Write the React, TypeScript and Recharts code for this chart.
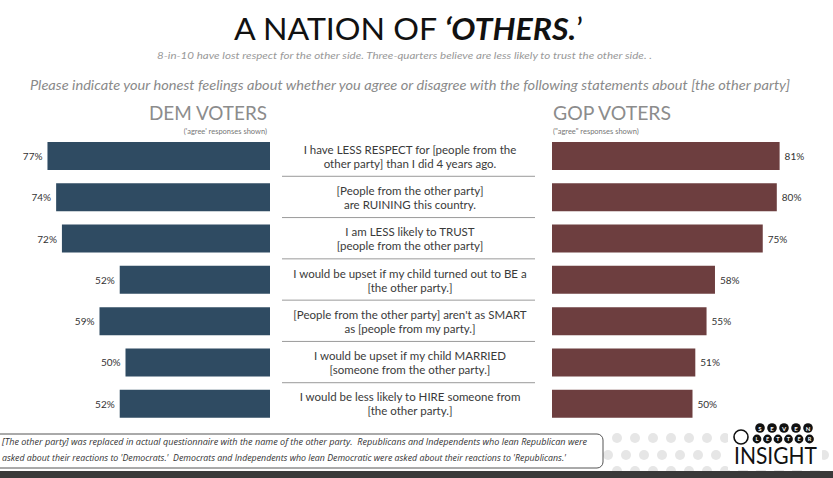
import React from "react";
import { BarChart, Bar, XAxis, YAxis, LabelList } from "recharts";

// statements (y categories) and the share of "agree" answers
const statements = [
  "LESS RESPECT",
  "RUINING",
  "TRUST",
  "CHILD BE",
  "SMART",
  "MARRIED",
  "HIRE",
];

const statementLines: Record<string, string[]> = {
  "LESS RESPECT": ["I have LESS RESPECT for [people from the", "other party] than I did 4 years ago."],
  RUINING: ["[People from the other party]", "are RUINING this country."],
  TRUST: ["I am LESS likely to TRUST", "[people from the other party]"],
  "CHILD BE": ["I would be upset if my child turned out to BE a", "[the other party.]"],
  SMART: ["[People from the other party] aren't as SMART", "as [people from my party.]"],
  MARRIED: ["I would be upset if my child MARRIED", "[someone from the other party.]"],
  HIRE: ["I would be less likely to HIRE someone from", "[the other party.]"],
};

const demValues = [77, 74, 72, 52, 59, 50, 52];
const gopValues = [81, 80, 75, 58, 55, 51, 50];

const data = statements.map((s, i) => ({
  key: s,
  dem: demValues[i],
  gop: gopValues[i],
}));

const DEM_COLOR = "#2F4B62";
const GOP_COLOR = "#6D3E3F";
const FONT = "Lato, 'Open Sans', sans-serif";

const CHART_TOP = 135;
const CHART_H = 289;
const ROW_H = CHART_H / statements.length;

// eslint-disable-next-line @typescript-eslint/no-explicit-any
const DemLabel = (props: any) => {
  const { x, y, width, height, value } = props;
  const left = Math.min(x, x + width);
  return (
    <text
      x={left - 5}
      y={y + height / 2}
      textAnchor="end"
      dominantBaseline="central"
      fontSize={10}
      fill="#333"
      fontFamily={FONT}
    >
      {value}%
    </text>
  );
};

// eslint-disable-next-line @typescript-eslint/no-explicit-any
const GopLabel = (props: any) => {
  const { x, y, width, height, value } = props;
  const right = Math.max(x, x + width);
  return (
    <text
      x={right + 5}
      y={y + height / 2}
      textAnchor="start"
      dominantBaseline="central"
      fontSize={10}
      fill="#333"
      fontFamily={FONT}
    >
      {value}%
    </text>
  );
};

// statement text sits in the y-axis gap of the GOP chart
// eslint-disable-next-line @typescript-eslint/no-explicit-any
const StatementTick = (props: any) => {
  const { y, payload, index } = props;
  const lines = statementLines[payload.value] || [payload.value];
  const cx = 140;
  return (
    <g>
      {lines.map((l, i) => (
        <text
          key={i}
          x={cx}
          y={y - 6.5 + i * 14}
          textAnchor="middle"
          dominantBaseline="central"
          fontSize={11.5}
          fill="#3a3a3a"
          fontFamily={FONT}
        >
          {l}
        </text>
      ))}
      {index < statements.length - 1 && (
        <line x1={12} x2={265} y1={y + ROW_H / 2} y2={y + ROW_H / 2} stroke="#9a9a9a" strokeWidth={1} />
      )}
    </g>
  );
};

const dotsRow = (y: number, start: number, n: number) =>
  Array.from({ length: n }, (_, i) => (
    <circle key={`${y}-${i}`} cx={start + i * 18} cy={y} r={5} fill="#e6e6e6" />
  ));

export default function App() {
  return (
    <div
      style={{
        position: "absolute",
        left: 0,
        top: 0,
        width: 833,
        height: 478,
        background: "#fff",
        overflow: "hidden",
        fontFamily: FONT,
      }}
    >
      {/* Static text and decoration */}
      <svg width={833} height={478} style={{ position: "absolute", left: 0, top: 0 }}>
        <text x={234} y={40} fontSize={30} fill="#111" textLength={349} lengthAdjust="spacingAndGlyphs" fontFamily={FONT}>
          A NATION OF{" "}
          <tspan fontWeight="bold" fontStyle="italic">‘OTHERS.</tspan>
          <tspan>’</tspan>
        </text>
        <text x={157} y={59} fontSize={10} fill="#999" fontStyle="italic" textLength={495} lengthAdjust="spacingAndGlyphs" fontFamily={FONT}>
          8-in-10 have lost respect for the other side. Three-quarters believe are less likely to trust the other side. .
        </text>
        <text x={30} y={90} fontSize={14} fill="#8a8a8a" fontStyle="italic" textLength={760} lengthAdjust="spacingAndGlyphs" fontFamily={FONT}>
          Please indicate your honest feelings about whether you agree or disagree with the following statements about [the other party]
        </text>
        <text x={149} y={120} fontSize={19} fill="#8c8c8c" textLength={118} lengthAdjust="spacingAndGlyphs" fontFamily={FONT}>
          DEM VOTERS
        </text>
        <text x={267} y={134} fontSize={7.5} fill="#777" textAnchor="end" fontFamily={FONT}>
          ('agree' responses shown)
        </text>
        <text x={553} y={120} fontSize={19} fill="#8c8c8c" textLength={118} lengthAdjust="spacingAndGlyphs" fontFamily={FONT}>
          GOP VOTERS
        </text>
        <text x={553} y={134} fontSize={7.5} fill="#777" fontFamily={FONT}>
          ("agree" responses shown)
        </text>

        {/* dotted background of footer */}
        {dotsRow(438, 617, 12)}
        {dotsRow(455, 608, 13)}
        {dotsRow(471, 617, 12)}
        <rect x={728} y={420} width={94} height={50} fill="#fff" />

        {/* footnote box */}
        <rect x={-10} y={434} width={613} height={34} rx={6} fill="#fff" stroke="#555" strokeWidth={1} />
        <text x={2} y={445} fontSize={8.2} fill="#333" fontStyle="italic" textLength={585} lengthAdjust="spacingAndGlyphs" fontFamily="'Open Sans', sans-serif" style={{ whiteSpace: "pre" }}>
          [The other party] was replaced in actual questionnaire with the name of the other party.  Republicans and Independents who lean Republican were
        </text>
        <text x={2} y={461} fontSize={8.2} fill="#333" fontStyle="italic" textLength={564} lengthAdjust="spacingAndGlyphs" fontFamily="'Open Sans', sans-serif" style={{ whiteSpace: "pre" }}>
          asked about their reactions to 'Democrats.'  Democrats and Independents who lean Democratic were asked about their reactions to 'Republicans.'
        </text>

        {/* logo */}
        {"SEVEN".split("").map((c, i) => (
          <g key={`s${i}`}>
            <circle cx={760 + i * 12} cy={428} r={4.8} fill="#111" />
            <text x={760 + i * 12} y={428} fontSize={6} fill="#fff" fontWeight="bold" textAnchor="middle" dominantBaseline="central" fontFamily={FONT}>
              {c}
            </text>
          </g>
        ))}
        {"LETTER".split("").map((c, i) => (
          <g key={`l${i}`}>
            <circle cx={757 + i * 10.5} cy={439} r={4.4} fill="#111" />
            <text x={757 + i * 10.5} y={439} fontSize={5.5} fill="#fff" fontWeight="bold" textAnchor="middle" dominantBaseline="central" fontFamily={FONT}>
              {c}
            </text>
          </g>
        ))}
        <circle cx={741} cy={437} r={7} fill="#fff" stroke="#111" strokeWidth={1.6} />
        <text x={734} y={464} fontSize={23} fill="#111" textLength={83} lengthAdjust="spacingAndGlyphs" fontFamily={FONT}>
          INSIGHT
        </text>

        {/* bottom band */}
        <rect x={0} y={471} width={833} height={7} fill="#3a3a3a" />
      </svg>

      {/* Dem bars, growing leftwards */}
      <div style={{ position: "absolute", left: -19, top: CHART_TOP }}>
        <BarChart
          width={289}
          height={CHART_H}
          data={data}
          layout="vertical"
          margin={{ top: 0, right: 0, bottom: 0, left: 0 }}
        >
          <XAxis type="number" domain={[0, 100]} reversed hide />
          <YAxis type="category" dataKey="key" hide />
          <Bar dataKey="dem" fill={DEM_COLOR} barSize={28} isAnimationActive={false}>
            <LabelList dataKey="dem" content={DemLabel} />
          </Bar>
        </BarChart>
      </div>

      {/* GOP bars, statements in the axis area */}
      <div style={{ position: "absolute", left: 270, top: CHART_TOP }}>
        <BarChart
          width={563}
          height={CHART_H}
          data={data}
          layout="vertical"
          margin={{ top: 0, right: 0, bottom: 0, left: 0 }}
        >
          <XAxis type="number" domain={[0, 100]} hide />
          <YAxis
            type="category"
            dataKey="key"
            width={282}
            axisLine={false}
            tickLine={false}
            interval={0}
            tick={StatementTick}
          />
          <Bar dataKey="gop" fill={GOP_COLOR} barSize={28} isAnimationActive={false}>
            <LabelList dataKey="gop" content={GopLabel} />
          </Bar>
        </BarChart>
      </div>
    </div>
  );
}
